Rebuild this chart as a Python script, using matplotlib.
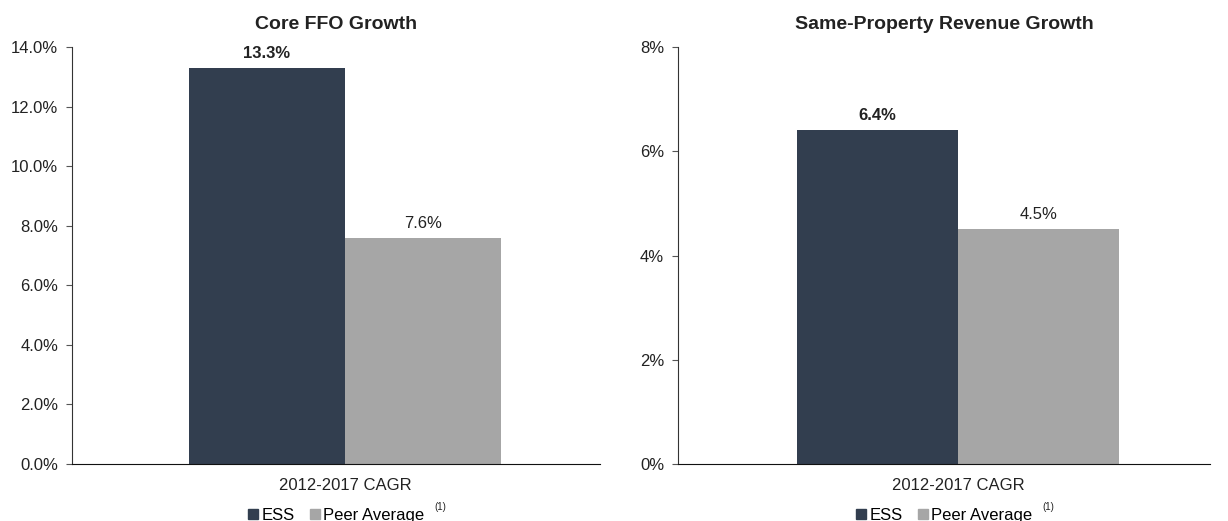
import matplotlib
matplotlib.use("Agg")
import matplotlib.pyplot as plt
from matplotlib.patches import Patch
from matplotlib.ticker import FuncFormatter

plt.rcParams['font.family'] = ['Liberation Sans', 'DejaVu Sans']

category = "2012-2017 CAGR"
series = ["ESS", "Peer Average"]
colors = ["#323E4F", "#A6A6A6"]

titles = ["Core FFO Growth", "Same-Property Revenue Growth"]
values_ffo = [13.3, 7.6]
values_rev = [6.4, 4.5]
ticks_ffo = [0, 2, 4, 6, 8, 10, 12, 14]
ticks_rev = [0, 2, 4, 6, 8]

fig = plt.figure(figsize=(12.28, 5.21), dpi=100)
W, H = 1228, 521
TXT = '#222222'

def make(ax_rect, title, vals, ticks, fmt, xl):
    ax = fig.add_axes(ax_rect)
    xs = [0, 1]
    ax.bar(xs, vals, width=1.0, color=colors, align='center')
    ax.set_xlim(*xl)
    ax.set_ylim(0, ticks[-1])
    ax.set_yticks(ticks)
    ax.yaxis.set_major_formatter(FuncFormatter(fmt))
    ax.set_xticks([0.5])
    ax.set_xticklabels([category])
    ax.tick_params(axis='x', length=0, labelsize=12, colors=TXT, pad=10)
    ax.tick_params(axis='y', direction='out', length=4, labelsize=12,
                   colors=TXT, pad=6, color='#555555')
    for s in ['top', 'right']:
        ax.spines[s].set_visible(False)
    ax.spines['left'].set_color('#333333')
    ax.spines['bottom'].set_color('#111111')
    ax.set_title(title, fontsize=14, fontweight='bold', color=TXT, pad=13)
    for i, v in enumerate(vals):
        ax.annotate(f"{v:.1f}%", (xs[i], v), xytext=(0, 5), textcoords='offset points',
                    ha='center', va='bottom', fontsize=12,
                    fontweight='bold' if i == 0 else 'normal', color=TXT)
    handles = [Patch(color=c) for c in colors]
    leg = ax.legend(handles, series, loc='upper center', bbox_to_anchor=(0.5, -0.097),
                    ncol=2, frameon=False, fontsize=12, handlelength=0.6, handleheight=0.6,
                    handletextpad=0.2, columnspacing=0.9, borderaxespad=0, borderpad=0.2)
    return ax, leg

bottom = 1 - 464 / H
top = 1 - 47 / H
axL, legL = make([72 / W, bottom, (600 - 72) / W, top - bottom], titles[0], values_ffo,
                 ticks_ffo, lambda v, p: f"{v:.1f}%", (-1.25, 2.135))
axR, legR = make([678 / W, bottom, (1210 - 678) / W, top - bottom], titles[1], values_rev,
                 ticks_rev, lambda v, p: f"{v:.0f}%", (-1.239, 2.065))

fig.canvas.draw()
renderer = fig.canvas.get_renderer()
for leg in (legL, legR):
    tb = leg.get_texts()[-1].get_window_extent(renderer)
    fig.text((tb.x1 + 10) / W, (tb.y1 + 6) / H, "(1)", fontsize=7, color=TXT,
             ha='left', va='top')

fig.savefig("out.png", dpi=100)
